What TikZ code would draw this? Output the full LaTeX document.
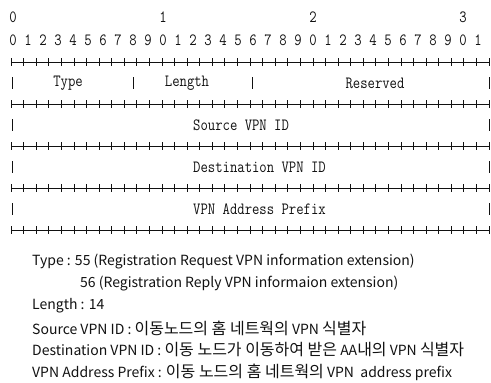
\documentclass[tikz,border=0pt]{standalone}
\usepackage{fontspec}
\usepackage{xcolor}
\usepackage{graphicx}
\usetikzlibrary{positioning,calc}
\newfontfamily\krfont{Noto Sans CJK KR}
\newcommand{\kr}[1]{{\fontsize{16}{16}\selectfont #1}}
\newcommand{\tallt}[1]{\scalebox{1}[1.2]{#1}}
\definecolor{hink}{HTML}{111111}

\begin{document}
\begin{tikzpicture}[x=1pt,y=-1pt,every node/.style={inner sep=0pt,text=hink},
  bitnum/.style={font=\ttfamily\fontsize{14.3}{16}\selectfont},
  field/.style={font=\ttfamily\fontsize{14.3}{16}\selectfont},
  note/.style={font=\krfont\fontsize{14}{16}\selectfont,anchor=west},
  rule/.style={hink,line width=0.8pt}]
  \useasboundingbox (0,0) rectangle (491,383);

  % bit numbers
  \foreach \t in {0,1,2,3}
    \node[bitnum] (ten\t) at ({13+150*\t},17) {\tallt{\t}};
  \foreach \b in {0,...,31}{
    \pgfmathtruncatemacro{\d}{mod(\b,10)}
    \node[bitnum] (bit\b) at ({13+15*\b},40) {\tallt{\d}};
  }

  % +-+-+ rows
  \foreach \y in {62,104,146,188,230}{
    \draw[rule] (11,\y) -- (489,\y);
    \foreach \k in {0,...,38}
      \draw[rule] ({11+12.58*\k},\y-4) -- ({11+12.58*\k},\y+4);
  }

  % field bars
  \foreach \x/\y in {12/83,133/83,252/83,489/83,12/125,489/125,12/167,489/167,12/209,489/209}
    \draw[rule] (\x,\y-6) -- (\x,\y+6);

  % fields
  \node[field] (type) at (68,83) {\tallt{Type}};
  \node[field] (length) at (187,83) {\tallt{Length}};
  \node[field] (reserved) at (375,83) {\tallt{Reserved}};
  \node[field,anchor=west] (srcid) at (193,125) {\tallt{Source VPN ID}};
  \node[field,anchor=west] (dstid) at (193,167) {\tallt{Destination VPN ID}};
  \node[field,anchor=west] (prefix) at (193,209) {\tallt{VPN Address Prefix}};

  % notes
  \node[note] (ntype) at (32,262) {Type : 55 (Registration Request VPN information extension)};
  \node[note] (nreply) at (80,284) {56 (Registration Reply VPN informaion extension)};
  \node[note] (nlen) at (32,306) {Length : 14};
  \node[note] (nsrc) at (32,328) {Source VPN ID : \kr{이동노드의 홈 네트웍의} VPN \kr{식별자}};
  \node[note] (ndst) at (32,350) {Destination VPN ID : \kr{이동 노드가 이동하여 받은} AA\kr{내의} VPN \kr{식별자}};
  \node[note] (npfx) at (32,372) {VPN Address Prefix : \kr{이동 노드의 홈 네트웍의} VPN~ address prefix};
\end{tikzpicture}
\end{document}
